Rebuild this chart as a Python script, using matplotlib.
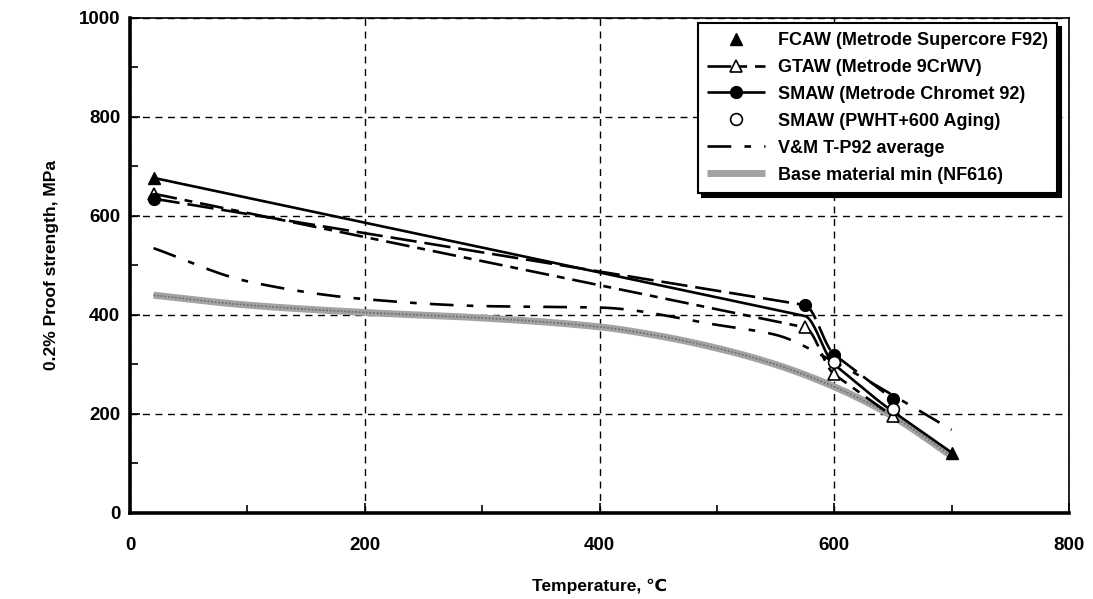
import numpy as np
import matplotlib

matplotlib.use("Agg")
import matplotlib.pyplot as plt
from matplotlib.lines import Line2D

plt.rcParams['font.family'] = ['Liberation Sans', 'DejaVu Sans']
plt.rcParams['font.weight'] = 'bold'

# --- data ---
fcaw_t = [20, 575, 600, 650, 700]
fcaw_v = [677, 398, 300, 205, 122]
fcaw_mark_t = [20, 700]
fcaw_mark_v = [677, 122]

gtaw_t = [20, 575, 600, 650]
gtaw_v = [645, 375, 280, 195]

smaw_t = [20, 575, 600, 650]
smaw_v = [635, 420, 320, 230]

pwht_t = [600, 650]
pwht_v = [305, 210]

vm_t = [20, 100, 200, 300, 400, 500, 550, 600, 650, 700]
vm_v = [535, 468, 432, 418, 415, 380, 360, 305, 238, 168]

base_t = [20, 100, 200, 300, 400, 450, 500, 550, 600, 650, 700]
base_v = [440, 420, 405, 394, 376, 358, 333, 300, 255, 195, 115]

labels = ["FCAW (Metrode Supercore F92)", "GTAW (Metrode 9CrWV)",
          "SMAW (Metrode Chromet 92)", "SMAW (PWHT+600 Aging)",
          "V&M T-P92 average", "Base material min (NF616)"]


def smooth(x, y, n=40, sharp=False):
    """Monotone cubic through the points, stands in for Excel smoothing.
    sharp=True keeps long straight runs straight and bends at the points."""
    x = np.asarray(x, float)
    y = np.asarray(y, float)
    h = np.diff(x)
    d = np.diff(y) / h
    m = np.zeros_like(y)
    m[0], m[-1] = d[0], d[-1]
    for k in range(1, len(x) - 1):
        if d[k - 1] * d[k] > 0:
            if sharp:
                m[k] = d[k - 1] if abs(d[k - 1]) < abs(d[k]) else d[k]
            else:
                w1 = 2 * h[k] + h[k - 1]
                w2 = h[k] + 2 * h[k - 1]
                m[k] = (w1 + w2) / (w1 / d[k - 1] + w2 / d[k])
    xs, ys = [], []
    for k in range(len(x) - 1):
        t = np.linspace(0, 1, n)
        h00 = 2 * t**3 - 3 * t**2 + 1
        h10 = t**3 - 2 * t**2 + t
        h01 = -2 * t**3 + 3 * t**2
        h11 = t**3 - t**2
        seg = h00 * y[k] + h10 * h[k] * m[k] + h01 * y[k + 1] + h11 * h[k] * m[k + 1]
        xs.append(x[k] + t * h[k])
        ys.append(seg)
    return np.concatenate(xs), np.concatenate(ys)


fig = plt.figure(figsize=(10.93, 5.99), dpi=100)
ax = fig.add_axes([0.119, 0.1436, 0.859, 0.8264])

lw = 1.9
base_style = dict(color='#a3a3a3', lw=5, solid_capstyle='butt')
vm_style = dict(color='black', lw=lw, ls=(0, (9, 5, 2.5, 5)))
gtaw_style = dict(color='black', lw=lw, ls=(0, (9, 3, 3, 3)))
smaw_style = dict(color='black', lw=lw, ls=(0, (10, 3)))

ax.plot(*smooth(base_t, base_v), **base_style)
ax.plot(*smooth(base_t, base_v), color='#707070', lw=1.3, ls=(0, (1, 1)))
ax.plot(*smooth(vm_t, vm_v), **vm_style)
ax.plot(*smooth(gtaw_t, gtaw_v, sharp=True), **gtaw_style)
ax.plot(*smooth(smaw_t, smaw_v, sharp=True), **smaw_style)
ax.plot(*smooth(fcaw_t, fcaw_v, sharp=True), color='black', lw=lw)

ax.plot(gtaw_t, gtaw_v, ls='none', marker='^', ms=8, mfc='white', mec='black', mew=1.2)
ax.plot(smaw_t, smaw_v, ls='none', marker='o', ms=8.5, mfc='black', mec='black')
ax.plot(pwht_t, pwht_v, ls='none', marker='o', ms=8.5, mfc='white', mec='black', mew=1.2)
ax.plot(fcaw_mark_t, fcaw_mark_v, ls='none', marker='^', ms=9, mfc='black', mec='black')

ax.set_xlim(0, 800)
ax.set_ylim(0, 1000)
ax.set_xticks(np.arange(0, 801, 200))
ax.set_yticks(np.arange(0, 1001, 200))
ax.set_xticks(np.arange(100, 800, 200), minor=True)
ax.set_yticks(np.arange(100, 1000, 200), minor=True)
ax.tick_params(which='both', direction='in', labelsize=13.5, width=1.2)
ax.tick_params(axis='x', which='both', pad=17)
ax.tick_params(axis='y', which='both', pad=7)
ax.tick_params(which='major', length=7)
ax.tick_params(which='minor', length=6)
for lab in ax.get_xticklabels() + ax.get_yticklabels():
    lab.set_fontweight('bold')

ax.grid(True, which='major', color='black', lw=1.0, ls=(0, (5, 4)))
ax.spines['left'].set_linewidth(2.6)
ax.spines['bottom'].set_linewidth(2.6)
ax.spines['top'].set_linewidth(1.2)
ax.spines['right'].set_linewidth(1.2)

ax.set_xlabel("Temperature, ℃", fontsize=12.5, fontweight='bold', labelpad=18)
ax.set_ylabel("0.2% Proof strength, MPa", fontsize=12.5, fontweight='bold', labelpad=14)

handles = [
    Line2D([], [], ls='none', marker='^', ms=9, mfc='black', mec='black'),
    Line2D([], [], marker='^', ms=8, mfc='white', mec='black', mew=1.2, **gtaw_style),
    Line2D([], [], marker='o', ms=8.5, mfc='black', mec='black', **smaw_style),
    Line2D([], [], ls='none', marker='o', ms=8.5, mfc='white', mec='black', mew=1.2),
    Line2D([], [], **vm_style),
    Line2D([], [], **base_style),
]
leg = ax.legend(handles, labels, loc='upper right', bbox_to_anchor=(0.987, 0.99),
                borderaxespad=0, fontsize=13, handlelength=3.2, handletextpad=0.7,
                labelspacing=0.55, borderpad=0.5, fancybox=False, framealpha=1,
                edgecolor='black',
                shadow={'color': 'black', 'alpha': 1, 'ox': 3, 'oy': -3})
leg.get_frame().set_linewidth(1.5)
for t in leg.get_texts():
    t.set_fontweight('bold')

fig.savefig("out.png", dpi=100)
